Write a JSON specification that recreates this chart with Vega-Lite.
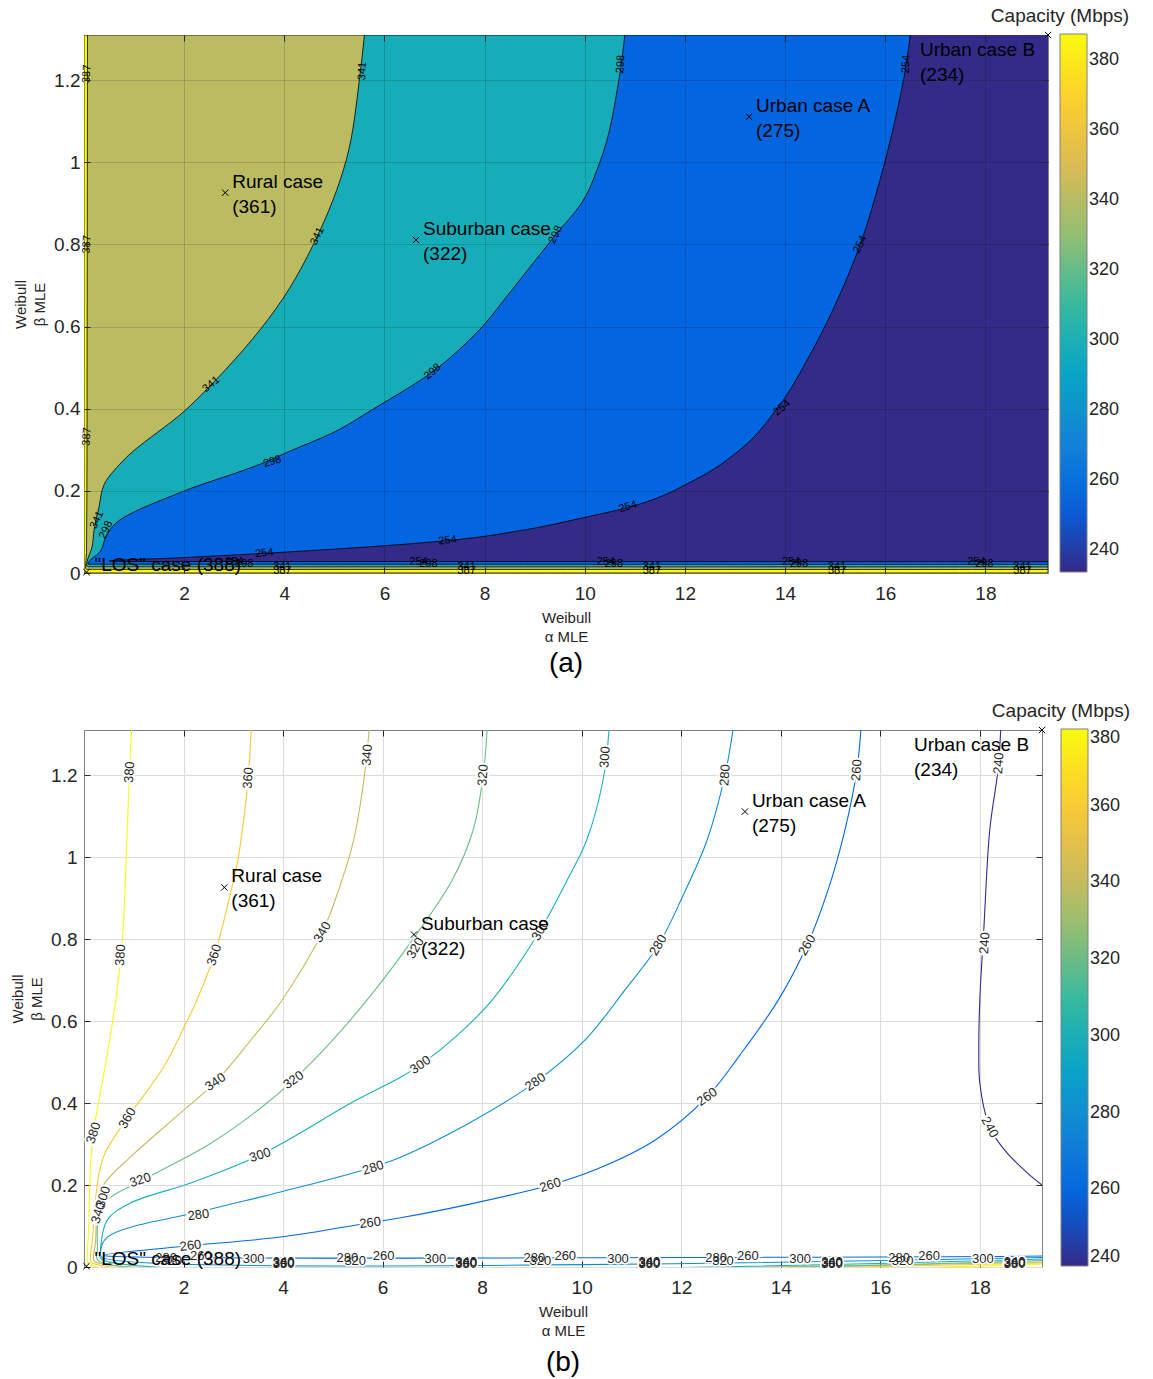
{
"$schema": "https://vega.github.io/schema/vega-lite/v6.json",
"padding": {"left": 10, "top": 6, "right": 0, "bottom": 0},
"spacing": 22,
"resolve": {"scale": {"color": "independent"}, "legend": {"color": "independent"}},
"config": {
 "font": "Liberation Sans",
 "view": {"stroke": "#808080", "strokeWidth": 1},
 "axis": {"domain": false, "tickSize": -6, "tickColor": "#262626", "labelFontSize": 19, "labelColor": "#262626", "titleFontSize": 15, "titleFontWeight": "normal", "titleColor": "#262626", "titleLineHeight": 19, "grid": true},
 "axisX": {"labelPadding": 17, "titlePadding": 7},
 "axisY": {"labelPadding": 10, "titlePadding": 6},
 "legend": {"orient": "none", "type": "gradient", "direction": "vertical", "gradientThickness": 27, "gradientStrokeColor": "#808080", "gradientStrokeWidth": 1, "labelFontSize": 18, "labelColor": "#262626", "labelOffset": 9, "titleFontSize": 19, "titleFontWeight": "normal", "titleColor": "#262626", "titleAnchor": "start", "titleAlign": "center", "titlePadding": 8},
 "title": {"fontSize": 28, "fontWeight": "normal", "color": "#000", "orient": "bottom", "anchor": "middle"}
},
"datasets": {
 "a_reg": [
  {"level":234,"alpha":19.25,"beta":0},{"level":234,"alpha":19.25,"beta":1.31},
  {"level":254,"alpha":16.5,"beta":1.31},{"level":254,"alpha":16.42,"beta":1.239},{"level":254,"alpha":16.2,"beta":1.105},{"level":254,"alpha":15.9,"beta":0.959},{"level":254,"alpha":15.5,"beta":0.8},{"level":254,"alpha":15.05,"beta":0.666},{"level":254,"alpha":14.5,"beta":0.532},{"level":254,"alpha":13.85,"beta":0.402},{"level":254,"alpha":13.1,"beta":0.3},{"level":254,"alpha":12.2,"beta":0.227},{"level":254,"alpha":10.9,"beta":0.161},{"level":254,"alpha":9.8,"beta":0.13},{"level":254,"alpha":8.8,"beta":0.105},{"level":254,"alpha":7.26,"beta":0.079},{"level":254,"alpha":6.7,"beta":0.073},{"level":254,"alpha":3.76,"beta":0.049},{"level":254,"alpha":1.9,"beta":0.037},{"level":254,"alpha":0.5,"beta":0.029},{"level":254,"alpha":0.55,"beta":0.0281},{"level":254,"alpha":19.25,"beta":0.0276},{"level":254,"alpha":19.25,"beta":0},
  {"level":298,"alpha":10.8,"beta":1.31},{"level":298,"alpha":10.68,"beta":1.2},{"level":298,"alpha":10.3,"beta":1.0},{"level":298,"alpha":9.92,"beta":0.898},{"level":298,"alpha":9.42,"beta":0.824},{"level":298,"alpha":8.55,"beta":0.69},{"level":298,"alpha":7.8,"beta":0.58},{"level":298,"alpha":6.96,"beta":0.49},{"level":298,"alpha":5.76,"beta":0.398},{"level":298,"alpha":4.96,"beta":0.341},{"level":298,"alpha":4.04,"beta":0.293},{"level":298,"alpha":3.64,"beta":0.271},{"level":298,"alpha":1.9,"beta":0.195},{"level":298,"alpha":0.64,"beta":0.122},{"level":298,"alpha":0.44,"beta":0.088},{"level":298,"alpha":0.3,"beta":0.049},{"level":298,"alpha":0.1,"beta":0.028},{"level":298,"alpha":0.08,"beta":0.0222},{"level":298,"alpha":0.12,"beta":0.0214},{"level":298,"alpha":19.25,"beta":0.021},{"level":298,"alpha":19.25,"beta":0},
  {"level":341,"alpha":5.6,"beta":1.31},{"level":341,"alpha":5.5,"beta":1.202},{"level":341,"alpha":5.24,"beta":1.007},{"level":341,"alpha":4.6,"beta":0.805},{"level":341,"alpha":3.96,"beta":0.666},{"level":341,"alpha":2.64,"beta":0.471},{"level":341,"alpha":2.04,"beta":0.398},{"level":341,"alpha":0.76,"beta":0.271},{"level":341,"alpha":0.4,"beta":0.215},{"level":341,"alpha":0.3,"beta":0.161},{"level":341,"alpha":0.2,"beta":0.105},{"level":341,"alpha":0.16,"beta":0.063},{"level":341,"alpha":0.06,"beta":0.027},{"level":341,"alpha":0.05,"beta":0.018},{"level":341,"alpha":0.09,"beta":0.0152},{"level":341,"alpha":19.25,"beta":0.0146},{"level":341,"alpha":19.25,"beta":0},
  {"level":387,"alpha":0.07,"beta":1.31},{"level":387,"alpha":0.065,"beta":0.8},{"level":387,"alpha":0.06,"beta":0.3},{"level":387,"alpha":0.05,"beta":0.05},{"level":387,"alpha":0.03,"beta":0.012},{"level":387,"alpha":0.05,"beta":0.0089},{"level":387,"alpha":19.25,"beta":0.0085},{"level":387,"alpha":19.25,"beta":0}
 ],
 "b_lines": [
  {"level":380,"alpha":0.955,"beta":1.31},{"level":380,"alpha":0.914,"beta":1.207},{"level":380,"alpha":0.873,"beta":1.078},{"level":380,"alpha":0.773,"beta":0.802},{"level":380,"alpha":0.632,"beta":0.646},{"level":380,"alpha":0.472,"beta":0.522},{"level":380,"alpha":0.19,"beta":0.327},{"level":380,"alpha":0.13,"beta":0.244},{"level":380,"alpha":0.09,"beta":0.083},{"level":380,"alpha":0.07,"beta":0.034},{"level":380,"alpha":0.1,"beta":0.0079},{"level":380,"alpha":19.25,"beta":0.0073},
  {"level":360,"alpha":3.36,"beta":1.31},{"level":360,"alpha":3.3,"beta":1.193},{"level":360,"alpha":3.26,"beta":1.144},{"level":360,"alpha":3.1,"beta":0.998},{"level":360,"alpha":2.92,"beta":0.9},{"level":360,"alpha":2.72,"beta":0.802},{"level":360,"alpha":2.62,"beta":0.761},{"level":360,"alpha":2.25,"beta":0.646},{"level":360,"alpha":2.05,"beta":0.595},{"level":360,"alpha":1.6,"beta":0.488},{"level":360,"alpha":0.87,"beta":0.363},{"level":360,"alpha":0.43,"beta":0.28},{"level":360,"alpha":0.33,"beta":0.244},{"level":360,"alpha":0.23,"beta":0.163},{"level":360,"alpha":0.17,"beta":0.066},{"level":360,"alpha":0.13,"beta":0.024},{"level":360,"alpha":0.16,"beta":0.0104},{"level":360,"alpha":19.25,"beta":0.0098},
  {"level":340,"alpha":5.73,"beta":1.31},{"level":340,"alpha":5.61,"beta":1.176},{"level":340,"alpha":5.41,"beta":1.037},{"level":340,"alpha":5.15,"beta":0.932},{"level":340,"alpha":4.79,"beta":0.817},{"level":340,"alpha":3.95,"beta":0.646},{"level":340,"alpha":3.4,"beta":0.561},{"level":340,"alpha":2.64,"beta":0.451},{"level":340,"alpha":1.94,"beta":0.376},{"level":340,"alpha":0.93,"beta":0.268},{"level":340,"alpha":0.43,"beta":0.207},{"level":340,"alpha":0.29,"beta":0.171},{"level":340,"alpha":0.23,"beta":0.059},{"level":340,"alpha":0.19,"beta":0.024},{"level":340,"alpha":0.22,"beta":0.0128},{"level":340,"alpha":19.25,"beta":0.0122},
  {"level":320,"alpha":8.1,"beta":1.31},{"level":320,"alpha":8.02,"beta":1.2},{"level":320,"alpha":7.82,"beta":1.066},{"level":320,"alpha":7.4,"beta":0.944},{"level":320,"alpha":6.6,"beta":0.798},{"level":320,"alpha":5.85,"beta":0.676},{"level":320,"alpha":5.0,"beta":0.554},{"level":320,"alpha":4.21,"beta":0.456},{"level":320,"alpha":3.5,"beta":0.383},{"level":320,"alpha":2.5,"beta":0.298},{"level":320,"alpha":1.18,"beta":0.212},{"level":320,"alpha":0.47,"beta":0.163},{"level":320,"alpha":0.29,"beta":0.115},{"level":320,"alpha":0.27,"beta":0.041},{"level":320,"alpha":0.28,"beta":0.0164},{"level":320,"alpha":19.25,"beta":0.0158},
  {"level":300,"alpha":10.55,"beta":1.31},{"level":300,"alpha":10.43,"beta":1.188},{"level":300,"alpha":10.1,"beta":1.041},{"level":300,"alpha":9.71,"beta":0.944},{"level":300,"alpha":9.17,"beta":0.822},{"level":300,"alpha":8.2,"beta":0.651},{"level":300,"alpha":7.5,"beta":0.565},{"level":300,"alpha":6.76,"beta":0.493},{"level":300,"alpha":6.36,"beta":0.463},{"level":300,"alpha":5.41,"beta":0.403},{"level":300,"alpha":3.58,"beta":0.276},{"level":300,"alpha":2.14,"beta":0.205},{"level":300,"alpha":0.93,"beta":0.156},{"level":300,"alpha":0.47,"beta":0.115},{"level":300,"alpha":0.33,"beta":0.041},{"level":300,"alpha":0.34,"beta":0.0201},{"level":300,"alpha":19.25,"beta":0.0195},
  {"level":280,"alpha":13.04,"beta":1.31},{"level":280,"alpha":12.88,"beta":1.2},{"level":280,"alpha":12.52,"beta":1.041},{"level":280,"alpha":12.04,"beta":0.907},{"level":280,"alpha":11.54,"beta":0.785},{"level":280,"alpha":10.87,"beta":0.676},{"level":280,"alpha":10.07,"beta":0.554},{"level":280,"alpha":9.07,"beta":0.451},{"level":280,"alpha":7.66,"beta":0.346},{"level":280,"alpha":6.36,"beta":0.268},{"level":280,"alpha":5.65,"beta":0.238},{"level":280,"alpha":3.95,"beta":0.183},{"level":280,"alpha":2.48,"beta":0.139},{"level":280,"alpha":0.47,"beta":0.073},{"level":280,"alpha":0.33,"beta":0.034},{"level":280,"alpha":0.36,"beta":0.0236},{"level":280,"alpha":19.25,"beta":0.023},
  {"level":260,"alpha":15.61,"beta":1.31},{"level":260,"alpha":15.53,"beta":1.212},{"level":260,"alpha":15.29,"beta":1.066},{"level":260,"alpha":14.93,"beta":0.912},{"level":260,"alpha":14.53,"beta":0.785},{"level":260,"alpha":13.95,"beta":0.651},{"level":260,"alpha":13.18,"beta":0.517},{"level":260,"alpha":12.52,"beta":0.415},{"level":260,"alpha":11.48,"beta":0.31},{"level":260,"alpha":10.27,"beta":0.237},{"level":260,"alpha":9.37,"beta":0.2},{"level":260,"alpha":7.66,"beta":0.151},{"level":260,"alpha":6.36,"beta":0.12},{"level":260,"alpha":5.75,"beta":0.108},{"level":260,"alpha":3.95,"beta":0.073},{"level":260,"alpha":1.94,"beta":0.05},{"level":260,"alpha":0.39,"beta":0.029},{"level":260,"alpha":0.42,"beta":0.0274},{"level":260,"alpha":19.25,"beta":0.0268},
  {"level":240,"alpha":18.42,"beta":1.31},{"level":240,"alpha":18.38,"beta":1.229},{"level":240,"alpha":18.34,"beta":1.188},{"level":240,"alpha":18.2,"beta":1.066},{"level":240,"alpha":18.08,"beta":0.822},{"level":240,"alpha":18.0,"beta":0.651},{"level":240,"alpha":17.98,"beta":0.529},{"level":240,"alpha":18.0,"beta":0.449},{"level":240,"alpha":18.2,"beta":0.341},{"level":240,"alpha":18.5,"beta":0.285},{"level":240,"alpha":18.96,"beta":0.229},{"level":240,"alpha":19.25,"beta":0.2}
 ],
 "cases": [
  {"case":"Rural","label":"Rural case\n(361)","alpha":2.82,"beta":0.926},
  {"case":"Suburban","label":"Suburban case\n(322)","alpha":6.63,"beta":0.811},
  {"case":"UrbanA","label":"Urban case A\n(275)","alpha":13.28,"beta":1.111},
  {"case":"UrbanB","label":"Urban case B\n(234)","alpha":19.25,"beta":1.31},
  {"case":"LOS","label":"\"LOS\" case (388)","alpha":0.05,"beta":0.002}
 ],
 "la90": [{"level":387,"alpha":0.06,"beta":1.215},{"level":387,"alpha":0.06,"beta":0.8},{"level":387,"alpha":0.06,"beta":0.332},{"level":341,"alpha":5.56,"beta":1.222},{"level":298,"alpha":10.72,"beta":1.239},{"level":254,"alpha":16.42,"beta":1.239}],
 "la65": [{"level":341,"alpha":4.66,"beta":0.82},{"level":341,"alpha":0.26,"beta":0.129},{"level":298,"alpha":9.42,"beta":0.824},{"level":254,"alpha":15.5,"beta":0.8},{"level":298,"alpha":0.44,"beta":0.105}],
 "la40": [{"level":341,"alpha":2.54,"beta":0.459},{"level":298,"alpha":6.96,"beta":0.49},{"level":254,"alpha":13.94,"beta":0.402}],
 "la15": [{"level":298,"alpha":3.76,"beta":0.271},{"level":254,"alpha":10.86,"beta":0.161}],
 "la6": [{"level":254,"alpha":7.26,"beta":0.079},{"level":254,"alpha":3.6,"beta":0.048}],
 "la0": [
  {"level":254,"alpha":3.0,"beta":0.0276},{"level":254,"alpha":6.68,"beta":0.0276},{"level":254,"alpha":10.42,"beta":0.0276},{"level":254,"alpha":14.12,"beta":0.0276},{"level":254,"alpha":17.82,"beta":0.0276},
  {"level":298,"alpha":3.2,"beta":0.021},{"level":298,"alpha":6.88,"beta":0.021},{"level":298,"alpha":10.58,"beta":0.021},{"level":298,"alpha":14.28,"beta":0.021},{"level":298,"alpha":17.98,"beta":0.021},
  {"level":341,"alpha":3.96,"beta":0.0146},{"level":341,"alpha":7.64,"beta":0.0146},{"level":341,"alpha":11.34,"beta":0.0146},{"level":341,"alpha":15.04,"beta":0.0146},{"level":341,"alpha":18.74,"beta":0.0146},
  {"level":387,"alpha":3.96,"beta":0.006},{"level":387,"alpha":7.64,"beta":0.006},{"level":387,"alpha":11.34,"beta":0.006},{"level":387,"alpha":15.04,"beta":0.006},{"level":387,"alpha":18.74,"beta":0.006}
 ],
 "lb85": [{"level":380,"alpha":0.914,"beta":1.207},{"level":380,"alpha":0.733,"beta":0.761},{"level":360,"alpha":3.3,"beta":1.193},{"level":340,"alpha":5.69,"beta":1.249},{"level":320,"alpha":8.02,"beta":1.2},{"level":300,"alpha":10.47,"beta":1.244},{"level":280,"alpha":12.88,"beta":1.2},{"level":260,"alpha":15.53,"beta":1.212},{"level":240,"alpha":18.38,"beta":1.229},{"level":240,"alpha":18.1,"beta":0.79}],
 "lb72": [{"level":380,"alpha":0.19,"beta":0.327},{"level":360,"alpha":2.62,"beta":0.761},{"level":340,"alpha":0.29,"beta":0.132},{"level":300,"alpha":0.39,"beta":0.171}],
 "lb60": [{"level":360,"alpha":0.873,"beta":0.363},{"level":340,"alpha":4.79,"beta":0.817},{"level":320,"alpha":6.66,"beta":0.778},{"level":300,"alpha":9.17,"beta":0.822},{"level":280,"alpha":11.54,"beta":0.785},{"level":260,"alpha":14.53,"beta":0.785}],
 "lb35": [{"level":340,"alpha":2.64,"beta":0.451},{"level":320,"alpha":4.21,"beta":0.456},{"level":300,"alpha":6.76,"beta":0.493},{"level":280,"alpha":9.07,"beta":0.451},{"level":260,"alpha":12.52,"beta":0.415}],
 "lb18": [{"level":320,"alpha":1.13,"beta":0.212},{"level":300,"alpha":3.54,"beta":0.273},{"level":280,"alpha":5.81,"beta":0.242},{"level":260,"alpha":9.37,"beta":0.2}],
 "lb7": [{"level":280,"alpha":2.3,"beta":0.127},{"level":260,"alpha":5.75,"beta":0.108},{"level":260,"alpha":2.14,"beta":0.052}],
 "lbp": [{"level":240,"alpha":18.2,"beta":0.341}],
 "lb0": [
  {"level":300,"alpha":3.41,"beta":0.0195},{"level":300,"alpha":7.06,"beta":0.0195},{"level":300,"alpha":10.73,"beta":0.0195},{"level":300,"alpha":14.39,"beta":0.0195},{"level":300,"alpha":18.06,"beta":0.0195},
  {"level":340,"alpha":4.01,"beta":0.0122},{"level":340,"alpha":7.68,"beta":0.0122},{"level":340,"alpha":11.36,"beta":0.0122},{"level":340,"alpha":15.03,"beta":0.0122},{"level":340,"alpha":18.7,"beta":0.0122},
  {"level":360,"alpha":4.01,"beta":0.0098},{"level":360,"alpha":7.68,"beta":0.0098},{"level":360,"alpha":11.36,"beta":0.0098},{"level":360,"alpha":15.03,"beta":0.0098},{"level":360,"alpha":18.7,"beta":0.0098},
  {"level":380,"alpha":4.01,"beta":0.0073},{"level":380,"alpha":7.68,"beta":0.0073},{"level":380,"alpha":11.36,"beta":0.0073},{"level":380,"alpha":15.03,"beta":0.0073},{"level":380,"alpha":18.7,"beta":0.0073},
  {"level":280,"alpha":1.65,"beta":0.023},{"level":280,"alpha":5.29,"beta":0.023},{"level":280,"alpha":9.05,"beta":0.023},{"level":280,"alpha":12.7,"beta":0.023},{"level":280,"alpha":16.38,"beta":0.023},
  {"level":320,"alpha":1.75,"beta":0.0158},{"level":320,"alpha":5.45,"beta":0.0158},{"level":320,"alpha":9.17,"beta":0.0158},{"level":320,"alpha":12.84,"beta":0.0158},{"level":320,"alpha":16.45,"beta":0.0158},
  {"level":260,"alpha":2.35,"beta":0.0268},{"level":260,"alpha":6.02,"beta":0.0268},{"level":260,"alpha":9.67,"beta":0.0268},{"level":260,"alpha":13.34,"beta":0.0268},{"level":260,"alpha":16.98,"beta":0.0268}
 ]
},
"vconcat": [
 {
  "width": 964, "height": 538,
  "title": {"text": "(a)", "offset": 6},
  "data": {"name": "a_reg"},
  "resolve": {"axis": {"x": "independent", "y": "independent"}},
  "encoding": {
   "x": {"field": "alpha", "type": "quantitative", "stack": null, "scale": {"domain": [0, 19.25], "nice": false, "zero": false}, "axis": null},
   "y": {"field": "beta", "type": "quantitative", "scale": {"domain": [0, 1.31], "nice": false, "zero": false}, "axis": null}
  },
  "layer": [
   {"encoding": {
     "x": {"field": "alpha", "type": "quantitative", "stack": null, "scale": {"domain": [0, 19.25], "nice": false, "zero": false},
         "axis": {"values": [2,4,6,8,10,12,14,16,18], "gridColor": "#000", "gridOpacity": 0.15, "zindex": 1, "title": ["Weibull", "\u03b1 MLE"]}},
     "y": {"field": "beta", "type": "quantitative", "scale": {"domain": [0, 1.31], "nice": false, "zero": false},
         "axis": {"values": [0,0.2,0.4,0.6,0.8,1,1.2], "format": "~g", "gridColor": "#000", "gridOpacity": 0.15, "zindex": 1, "title": ["Weibull", "\u03b2 MLE"]}},
     "color": {"field": "level", "type": "quantitative",
       "scale": {"domain": [233.8, 387.5], "range": ["#352a87","#0363e1","#1485d4","#06a7c6","#38b99e","#92bf73","#d9ba56","#fcce2e","#f9fb0e"], "interpolate": "rgb"},
       "legend": {"title": "Capacity (Mbps)", "legendX": 907, "legendY": -28, "gradientLength": 538, "values": [240,260,280,300,320,340,360,380]}}},
    "layer": [
     {"transform": [{"filter": "datum.level == 234"}], "mark": {"type": "area", "orient": "horizontal", "clip": true}},
     {"transform": [{"filter": "datum.level == 254"}], "mark": {"type": "area", "orient": "horizontal", "interpolate": "monotone", "stroke": "#000", "strokeWidth": 0.8, "clip": true}},
     {"transform": [{"filter": "datum.level == 298"}], "mark": {"type": "area", "orient": "horizontal", "interpolate": "monotone", "stroke": "#000", "strokeWidth": 0.8, "clip": true}},
     {"transform": [{"filter": "datum.level == 341"}], "mark": {"type": "area", "orient": "horizontal", "interpolate": "monotone", "stroke": "#000", "strokeWidth": 0.8, "clip": true}},
     {"transform": [{"filter": "datum.level == 387"}], "mark": {"type": "area", "orient": "horizontal", "interpolate": "monotone", "stroke": "#000", "strokeWidth": 0.8, "clip": true}}
    ]},
   {"data": {"name": "la90"}, "mark": {"type": "text", "angle": -87, "fontSize": 11, "color": "#000"}, "encoding": {"text": {"field": "level", "type": "nominal"}}},
   {"data": {"name": "la65"}, "mark": {"type": "text", "angle": -65, "fontSize": 11, "color": "#000"}, "encoding": {"text": {"field": "level", "type": "nominal"}}},
   {"data": {"name": "la40"}, "mark": {"type": "text", "angle": -40, "fontSize": 11, "color": "#000"}, "encoding": {"text": {"field": "level", "type": "nominal"}}},
   {"data": {"name": "la15"}, "mark": {"type": "text", "angle": -17, "fontSize": 11, "color": "#000"}, "encoding": {"text": {"field": "level", "type": "nominal"}}},
   {"data": {"name": "la6"}, "mark": {"type": "text", "angle": -6, "fontSize": 11, "color": "#000"}, "encoding": {"text": {"field": "level", "type": "nominal"}}},
   {"data": {"name": "la0"}, "mark": {"type": "text", "fontSize": 11, "color": "#000"}, "encoding": {"text": {"field": "level", "type": "nominal"}}},
   {"data": {"name": "cases"}, "mark": {"type": "point", "shape": "M-1,-1L1,1M-1,1L1,-1", "size": 40, "stroke": "#000", "strokeWidth": 1, "filled": false, "opacity": 1},
    "encoding": {
     "x": {"field": "alpha", "type": "quantitative", "scale": {"domain": [0, 19.25], "nice": false, "zero": false},
         "axis": {"orient": "top", "values": [2,4,6,8,10,12,14,16,18], "labels": false, "grid": false, "title": null, "zindex": 1}},
     "y": {"field": "beta", "type": "quantitative", "scale": {"domain": [0, 1.31], "nice": false, "zero": false},
         "axis": {"orient": "right", "values": [0.2,0.4,0.6,0.8,1,1.2], "labels": false, "grid": false, "title": null, "zindex": 1}}}},
   {"data": {"name": "cases"}, "transform": [{"filter": "datum.case == 'Rural' || datum.case == 'Suburban' || datum.case == 'UrbanA'"}],
    "mark": {"type": "text", "align": "left", "baseline": "middle", "dx": 7, "dy": -11, "fontSize": 19, "lineBreak": "\n", "lineHeight": 25, "color": "#000"}, "encoding": {"text": {"field": "label"}}},
   {"data": {"name": "cases"}, "transform": [{"filter": "datum.case == 'UrbanB'"}],
    "mark": {"type": "text", "align": "left", "baseline": "middle", "dx": -128, "dy": 15, "fontSize": 19, "lineBreak": "\n", "lineHeight": 25, "color": "#000"}, "encoding": {"text": {"field": "label"}}},
   {"data": {"name": "cases"}, "transform": [{"filter": "datum.case == 'LOS'"}],
    "mark": {"type": "text", "align": "left", "baseline": "middle", "dx": 8, "dy": -7, "fontSize": 19, "color": "#000"}, "encoding": {"text": {"field": "label"}}}
  ]
 },
 {
  "width": 958, "height": 537,
  "title": {"text": "(b)", "offset": 11},
  "data": {"name": "b_lines"},
  "resolve": {"axis": {"x": "independent", "y": "independent"}},
  "encoding": {
   "x": {"field": "alpha", "type": "quantitative", "stack": null, "scale": {"domain": [0, 19.25], "nice": false, "zero": false}, "axis": null},
   "y": {"field": "beta", "type": "quantitative", "scale": {"domain": [0, 1.31], "nice": false, "zero": false}, "axis": null}
  },
  "layer": [
   {"mark": {"type": "line", "strokeWidth": 1.1, "interpolate": "catmull-rom", "clip": true},
    "encoding": {
     "x": {"field": "alpha", "type": "quantitative", "scale": {"domain": [0, 19.25], "nice": false, "zero": false},
         "axis": {"values": [2,4,6,8,10,12,14,16,18], "gridColor": "#dcdcdc", "title": ["Weibull", "\u03b1 MLE"]}},
     "y": {"field": "beta", "type": "quantitative", "scale": {"domain": [0, 1.31], "nice": false, "zero": false},
         "axis": {"values": [0,0.2,0.4,0.6,0.8,1,1.2], "format": "~g", "gridColor": "#dcdcdc", "labelPadding": 13, "title": ["Weibull", "\u03b2 MLE"]}},
     "detail": {"field": "level"}, "order": {"field": "beta", "sort": "descending"},
     "color": {"field": "level", "type": "quantitative",
       "scale": {"domain": [240, 380], "range": ["#352a87","#0363e1","#1485d4","#06a7c6","#38b99e","#92bf73","#d9ba56","#fcce2e","#f9fb0e"], "interpolate": "rgb"},
       "legend": {"title": "Capacity (Mbps)", "legendX": 908, "legendY": -28, "gradientLength": 537, "values": [240,260,280,300,320,340,360,380]}}}},
   {"data": {"name": "lb85"}, "encoding": {"text": {"field": "level", "type": "nominal"}}, "layer": [
     {"mark": {"type": "text", "angle": -86, "fontSize": 13, "fill": "white", "stroke": "white", "strokeWidth": 4}},
     {"mark": {"type": "text", "angle": -86, "fontSize": 13, "color": "#262626"}}]},
   {"data": {"name": "lb72"}, "encoding": {"text": {"field": "level", "type": "nominal"}}, "layer": [
     {"mark": {"type": "text", "angle": -72, "fontSize": 13, "fill": "white", "stroke": "white", "strokeWidth": 4}},
     {"mark": {"type": "text", "angle": -72, "fontSize": 13, "color": "#262626"}}]},
   {"data": {"name": "lb60"}, "encoding": {"text": {"field": "level", "type": "nominal"}}, "layer": [
     {"mark": {"type": "text", "angle": -60, "fontSize": 13, "fill": "white", "stroke": "white", "strokeWidth": 4}},
     {"mark": {"type": "text", "angle": -60, "fontSize": 13, "color": "#262626"}}]},
   {"data": {"name": "lb35"}, "encoding": {"text": {"field": "level", "type": "nominal"}}, "layer": [
     {"mark": {"type": "text", "angle": -35, "fontSize": 13, "fill": "white", "stroke": "white", "strokeWidth": 4}},
     {"mark": {"type": "text", "angle": -35, "fontSize": 13, "color": "#262626"}}]},
   {"data": {"name": "lb18"}, "encoding": {"text": {"field": "level", "type": "nominal"}}, "layer": [
     {"mark": {"type": "text", "angle": -18, "fontSize": 13, "fill": "white", "stroke": "white", "strokeWidth": 4}},
     {"mark": {"type": "text", "angle": -18, "fontSize": 13, "color": "#262626"}}]},
   {"data": {"name": "lb7"}, "encoding": {"text": {"field": "level", "type": "nominal"}}, "layer": [
     {"mark": {"type": "text", "angle": -7, "fontSize": 13, "fill": "white", "stroke": "white", "strokeWidth": 4}},
     {"mark": {"type": "text", "angle": -7, "fontSize": 13, "color": "#262626"}}]},
   {"data": {"name": "lbp"}, "encoding": {"text": {"field": "level", "type": "nominal"}}, "layer": [
     {"mark": {"type": "text", "angle": 62, "fontSize": 13, "fill": "white", "stroke": "white", "strokeWidth": 4}},
     {"mark": {"type": "text", "angle": 62, "fontSize": 13, "color": "#262626"}}]},
   {"data": {"name": "lb0"}, "encoding": {"text": {"field": "level", "type": "nominal"}}, "layer": [
     {"mark": {"type": "text", "fontSize": 13, "fill": "white", "stroke": "white", "strokeWidth": 3}},
     {"mark": {"type": "text", "fontSize": 13, "color": "#262626"}}]},
   {"data": {"name": "cases"}, "mark": {"type": "point", "shape": "M-1,-1L1,1M-1,1L1,-1", "size": 40, "stroke": "#000", "strokeWidth": 1, "filled": false, "opacity": 1},
    "encoding": {
     "x": {"field": "alpha", "type": "quantitative", "scale": {"domain": [0, 19.25], "nice": false, "zero": false},
         "axis": {"orient": "top", "values": [2,4,6,8,10,12,14,16,18], "labels": false, "grid": false, "title": null}},
     "y": {"field": "beta", "type": "quantitative", "scale": {"domain": [0, 1.31], "nice": false, "zero": false},
         "axis": {"orient": "right", "values": [0.2,0.4,0.6,0.8,1,1.2], "labels": false, "grid": false, "title": null}}}},
   {"data": {"name": "cases"}, "transform": [{"filter": "datum.case == 'Rural' || datum.case == 'Suburban' || datum.case == 'UrbanA'"}],
    "mark": {"type": "text", "align": "left", "baseline": "middle", "dx": 7, "dy": -11, "fontSize": 19, "lineBreak": "\n", "lineHeight": 25, "color": "#000"}, "encoding": {"text": {"field": "label"}}},
   {"data": {"name": "cases"}, "transform": [{"filter": "datum.case == 'UrbanB'"}],
    "mark": {"type": "text", "align": "left", "baseline": "middle", "dx": -128, "dy": 15, "fontSize": 19, "lineBreak": "\n", "lineHeight": 25, "color": "#000"}, "encoding": {"text": {"field": "label"}}},
   {"data": {"name": "cases"}, "transform": [{"filter": "datum.case == 'LOS'"}],
    "mark": {"type": "text", "align": "left", "baseline": "middle", "dx": 8, "dy": -7, "fontSize": 19, "color": "#000"}, "encoding": {"text": {"field": "label"}}}
  ]
 }
]
}
